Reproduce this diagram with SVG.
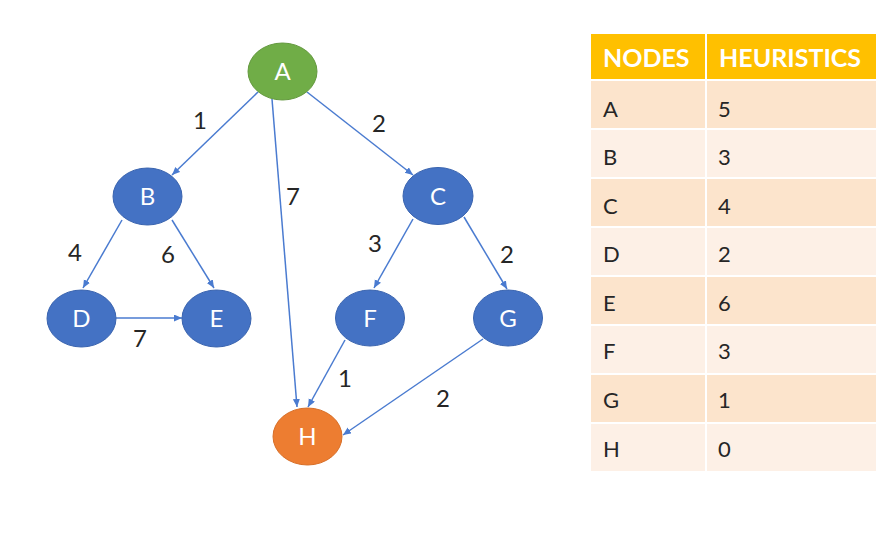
<svg xmlns="http://www.w3.org/2000/svg" width="889" height="538" viewBox="0 0 889 538">
<defs>
<marker id="arr" markerUnits="userSpaceOnUse" markerWidth="9" markerHeight="8" refX="8" refY="3.5" orient="auto">
<path d="M0,0 L8,3.5 L0,7 z" fill="#4A7BD0"/>
</marker>
<style>
.edge{stroke:#4A7BD0;stroke-width:1.5;fill:none;marker-end:url(#arr)}
.lbl{font-family:Lato,"Open Sans",sans-serif;font-size:24px;fill:#262626;text-anchor:middle}
.nt{font-family:Lato,"Open Sans",sans-serif;font-size:24px;fill:#fff;text-anchor:middle}
.blue{fill:#4472C4;stroke:#3A64AF;stroke-width:1}
.hd{font-family:Lato,"Open Sans",sans-serif;font-size:25px;font-weight:bold;fill:#fff}
.td{font-family:Lato,"Open Sans",sans-serif;font-size:22px;fill:#262626}
.hc{fill:#FFC000}
.r1{fill:#FCE4CC}
.r2{fill:#FDF0E6}
</style>
</defs>
<rect width="889" height="538" fill="#fff"/>
<g id="connectors">
<line class="edge" x1="258" y1="92" x2="172" y2="175"/>
<line class="edge" x1="272" y1="99" x2="297" y2="407"/>
<line class="edge" x1="307" y1="92" x2="413" y2="175"/>
<line class="edge" x1="122" y1="220" x2="83" y2="288"/>
<line class="edge" x1="172" y1="220" x2="214" y2="288"/>
<line class="edge" x1="116" y1="318" x2="182" y2="318"/>
<line class="edge" x1="413" y1="219" x2="374" y2="288"/>
<line class="edge" x1="464" y1="217" x2="507" y2="289"/>
<line class="edge" x1="345" y1="340" x2="308" y2="407"/>
<line class="edge" x1="483" y1="339" x2="343" y2="435"/>
</g>
<g id="edge-labels">
<text class="lbl" x="200" y="129">1</text>
<text class="lbl" x="293" y="205">7</text>
<text class="lbl" x="379" y="132">2</text>
<text class="lbl" x="75" y="261">4</text>
<text class="lbl" x="168" y="263">6</text>
<text class="lbl" x="140" y="347">7</text>
<text class="lbl" x="375" y="252">3</text>
<text class="lbl" x="507" y="263">2</text>
<text class="lbl" x="345" y="387">1</text>
<text class="lbl" x="443" y="407">2</text>
</g>
<g id="node-A"><ellipse cx="282.5" cy="71.5" rx="34.5" ry="28.5" fill="#70AD47" stroke="#64993F" stroke-width="1"/><text class="nt" x="282.5" y="80">A</text></g>
<g id="node-B"><ellipse class="blue" cx="147.5" cy="196.5" rx="34.5" ry="28.5"/><text class="nt" x="147.5" y="205">B</text></g>
<g id="node-C"><ellipse class="blue" cx="438" cy="196" rx="35" ry="28.5"/><text class="nt" x="438" y="204.5">C</text></g>
<g id="node-D"><ellipse class="blue" cx="81.5" cy="318.5" rx="34.5" ry="28.5"/><text class="nt" x="81.5" y="327">D</text></g>
<g id="node-E"><ellipse class="blue" cx="216.5" cy="318.5" rx="34.5" ry="28.5"/><text class="nt" x="216.5" y="327">E</text></g>
<g id="node-F"><ellipse class="blue" cx="370" cy="318" rx="34.5" ry="28"/><text class="nt" x="370" y="326.5">F</text></g>
<g id="node-G"><ellipse class="blue" cx="508" cy="318" rx="34.5" ry="28"/><text class="nt" x="508" y="326.5">G</text></g>
<g id="node-H"><ellipse cx="307.5" cy="436.5" rx="34.5" ry="28.5" fill="#ED7D31" stroke="#D86F28" stroke-width="1"/><text class="nt" x="307.5" y="445">H</text></g>
<g id="table">
<rect class="hc" x="591" y="34" width="114" height="45"/>
<rect class="hc" x="707" y="34" width="169" height="45"/>
<text class="hd" x="603" y="67">NODES</text>
<text class="hd" x="719" y="67">HEURISTICS</text>
<rect class="r1" x="591" y="81" width="114" height="47"/><rect class="r1" x="707" y="81" width="169" height="47"/>
<rect class="r2" x="591" y="130" width="114" height="47"/><rect class="r2" x="707" y="130" width="169" height="47"/>
<rect class="r1" x="591" y="179" width="114" height="47"/><rect class="r1" x="707" y="179" width="169" height="47"/>
<rect class="r2" x="591" y="228" width="114" height="47"/><rect class="r2" x="707" y="228" width="169" height="47"/>
<rect class="r1" x="591" y="277" width="114" height="47"/><rect class="r1" x="707" y="277" width="169" height="47"/>
<rect class="r2" x="591" y="326" width="114" height="47"/><rect class="r2" x="707" y="326" width="169" height="47"/>
<rect class="r1" x="591" y="375" width="114" height="47"/><rect class="r1" x="707" y="375" width="169" height="47"/>
<rect class="r2" x="591" y="424" width="114" height="47"/><rect class="r2" x="707" y="424" width="169" height="47"/>
<text class="td" x="603" y="117">A</text><text class="td" x="718" y="117">5</text>
<text class="td" x="603" y="165">B</text><text class="td" x="718" y="165">3</text>
<text class="td" x="603" y="214">C</text><text class="td" x="718" y="214">4</text>
<text class="td" x="603" y="262">D</text><text class="td" x="718" y="262">2</text>
<text class="td" x="603" y="311">E</text><text class="td" x="718" y="311">6</text>
<text class="td" x="603" y="359">F</text><text class="td" x="718" y="359">3</text>
<text class="td" x="603" y="408">G</text><text class="td" x="718" y="408">1</text>
<text class="td" x="603" y="457">H</text><text class="td" x="718" y="457">0</text>
</g>
</svg>
